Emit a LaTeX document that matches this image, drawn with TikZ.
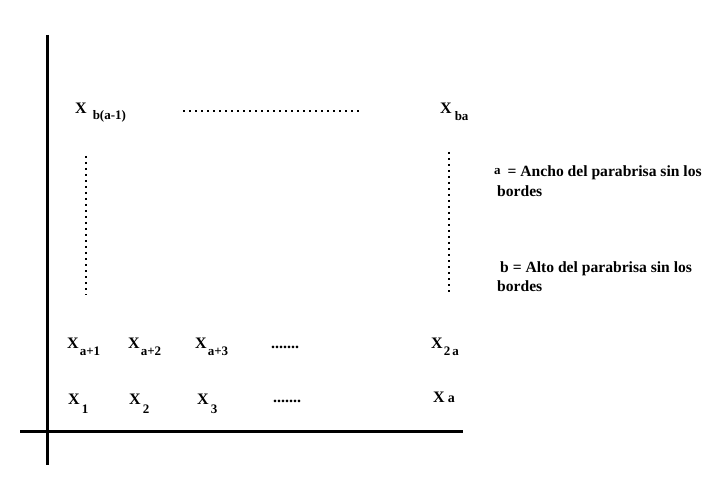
\documentclass[tikz,border=0pt]{standalone}
\usepackage{fontspec}
\setmainfont{Liberation Serif}
\newcommand{\xsub}[3]{X\kern#1pt\lower#2pt\hbox{\fontsize{13}{13}\selectfont #3}}
\begin{document}
\begin{tikzpicture}[x=1pt,y=-1pt,
  var/.style={anchor=base west,inner sep=0pt,font=\fontsize{16}{16}\selectfont\bfseries},
  note/.style={anchor=base west,inner sep=0pt,font=\fontsize{15.6}{16}\selectfont\bfseries},
  axis/.style={line width=3pt},
  dots/.style={line width=2pt,dash pattern=on 2pt off 4pt}]
\useasboundingbox (0,0) rectangle (714,494);

\coordinate (ytop) at (47,35);
\coordinate (ybot) at (47,465);
\coordinate (xleft) at (20,431);
\coordinate (xright) at (463,431);
\draw[axis] (ytop) -- (ybot);
\draw[axis] (xleft) -- (xright);

\node[var] (xlast1) at (75,114) {\xsub{6}{6}{b(a-1)}};
\node[var] (xlast) at (440,114) {\xsub{3}{7}{ba}};
\draw[dots] (183,111) -- (360,111);
\draw[dots] (86,156) -- (86,295);
\draw[dots] (449,152) -- (449,292);

\foreach \i/\x in {1/67,2/128,3/195}{
  \node[var] (xa\i) at (\x,348) {\xsub{1}{7}{a+\i}};
  }
\node[var] (rowdots2) at (271,348) {.......};
\node[var] (x2a) at (431,348) {\xsub{1}{7}{2\,a}};

\foreach \i/\x in {1/68,2/129,3/197}{
  \node[var] (x\i) at (\x,404) {\xsub{2}{9}{\i}};
  }
\node[var] (rowdots1) at (273,402) {.......};
\node[var] (xa) at (433,402) {X\kern3pt{\fontsize{14}{14}\selectfont a}};

\node[note] (defa) at (494,177) {\raisebox{2pt}{\fontsize{13}{13}\selectfont a}\hspace{7pt}= Ancho del parabrisa sin los};
\node[note] (defa2) at (497,197) {bordes};
\node[note] (defb) at (500,272) {b = Alto del parabrisa sin los};
\node[note] (defb2) at (497,291) {bordes};
\end{tikzpicture}
\end{document}
